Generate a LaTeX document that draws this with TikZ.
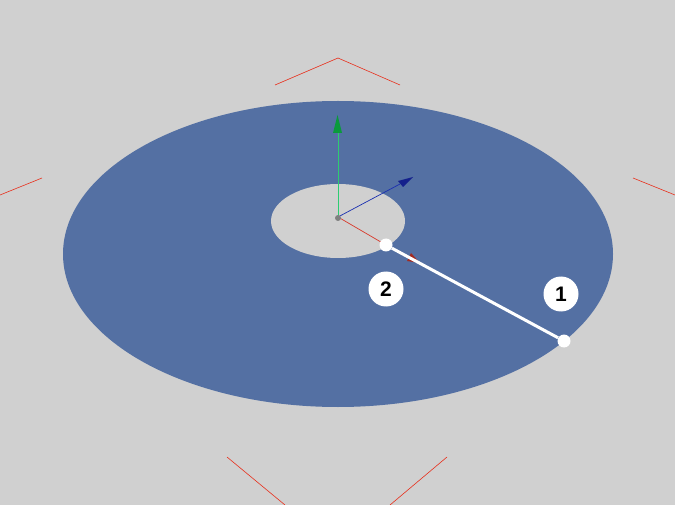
\documentclass[tikz,border=0pt]{standalone}
\usepackage{fontspec}
\setmainfont{Liberation Sans}
\usepackage{tikz}
\usetikzlibrary{arrows.meta,positioning}
\definecolor{bgGray}{HTML}{D0D0D0}
\definecolor{diskBlue}{HTML}{5470A3}
\definecolor{axisGreen}{HTML}{2ECC71}
\definecolor{coneGreen}{HTML}{0A9A3C}
\definecolor{axisBlue}{HTML}{1A2FB0}
\definecolor{coneBlue}{HTML}{14208C}
\definecolor{axisRed}{HTML}{D8392B}
\definecolor{coneRed}{HTML}{A32A20}
\definecolor{bracketRed}{HTML}{E8301C}
\begin{document}
\begin{tikzpicture}[
  x=1pt, y=-1pt,
  bracket/.style={draw=bracketRed, line width=0.6pt},
  pointdot/.style={circle, fill=white, inner sep=0pt, minimum size=13pt},
  tag/.style={circle, fill=white, inner sep=0pt, minimum size=35pt, font=\fontsize{21pt}{21pt}\selectfont\bfseries},
]
\useasboundingbox (0,0) rectangle (675,505);
\fill[bgGray] (0,0) rectangle (675,505);
% Disk with hole
\fill[diskBlue] (338,254) ellipse [x radius=275, y radius=153];
\fill[bgGray] (338,221) ellipse [x radius=67, y radius=37];
% Red brackets
\draw[bracket] (275,85) -- (338,58) -- (400,85);
\draw[bracket] (0,195) -- (42,178);
\draw[bracket] (633,178) -- (675,195);
\draw[bracket] (227,457) -- (285,505);
\draw[bracket] (447,457) -- (390,505);
% Axes
\coordinate (origin) at (338,217);
\draw[axisGreen, line width=0.7pt] (origin) -- (338,133);
\draw[axisBlue, line width=0.7pt] (origin) -- (400,184);
\draw[axisRed, line width=0.7pt] (origin) -- (386,245);
\fill[coneGreen] (337.5,115) -- (342,133) -- (333,133) -- cycle;
\fill[coneBlue] (413,177) -- (403,187) -- (398,181) -- cycle;
\fill[coneRed] (420,263) -- (411,253) -- (407,261) -- cycle;
\fill[gray] (338,218) circle (3);
% Segment between the two points
\node[pointdot] (inner) at (386,245) {};
\node[pointdot] (outer) at (564,341) {};
\draw[white, line width=3pt] (inner) -- (outer);
% Labels
\node[tag] (tagone) at (561,294) {1};
\node[tag] (tagtwo) at (386,289) {2};
\end{tikzpicture}
\end{document}
